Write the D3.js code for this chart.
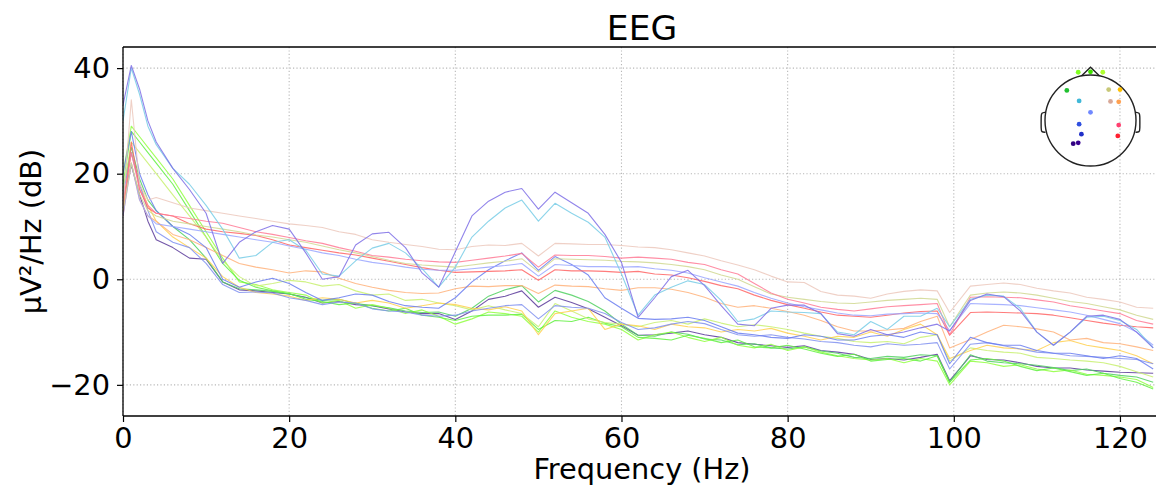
<!DOCTYPE html>
<html>
<head>
<meta charset="utf-8">
<script src="https://cdn.jsdelivr.net/npm/d3@7"></script>
<style>
  body { margin: 0; background: #fff; }
  text { font-family: "DejaVu Sans", sans-serif; fill: #000; }
</style>
</head>
<body>
<svg id="chart" width="1156" height="492"></svg>
<script>
"use strict";

// frequencies (Hz) shared by every channel
var freqs = [0, 1, 2, 3, 4, 6, 8, 10,
    12, 14, 16, 18, 20, 22, 24, 26, 28, 30, 32, 34, 36, 38, 40,
    42, 44, 46, 48, 50, 52, 54, 56, 58, 60, 62, 64, 66, 68, 70,
    72, 74, 76, 78, 80, 82, 84, 86, 88, 90, 92, 94, 96, 98, 99.5,
    102, 104, 106, 108, 110, 112, 114, 116, 118, 120, 122, 124];

// PSD per channel, dB
var psdIndigo = [15, 21.6, 16, 11, 7.5, 6, 4, 3.8,
    -0.5, -2, -2.2, -2.5, -2.8, -3.4, -4.5, -4.2, -4.8, -5, -5.6, -6.2, -6.5, -6.5, -7.6,
    -6, -3.8, -3.2, -2.2, -5.3, -3.4, -4.4, -5.6, -7.2, -8.8, -10.6, -10.5, -10.2, -9.8, -10.5,
    -11, -12, -12.3, -12.6, -12.9, -12.6, -13.5, -13.8, -14.2, -15.2, -15, -15.3, -14.8, -14.2, -19.2,
    -14.5, -15.2, -15.3, -15.8, -16.5, -16.8, -16.8, -17.2, -17.4, -17.6, -17.7, -17.8];
var psdGreen = [17, 25, 19, 15, 13, 10, 7.5, 4,
    -0.5, -1.8, -2, -2.3, -2.8, -3.5, -4, -3.8, -4.6, -5, -5.4, -6, -6.3, -6.2, -7,
    -5.5, -3.2, -2, -1.2, -4.3, -2.1, -3, -4.2, -6, -8.5, -10.6, -10.8, -10, -10.4, -11.3,
    -11.5, -12.4, -12.2, -13, -13.2, -12.8, -13.6, -14, -14.8, -15, -14.6, -14.8, -14.3, -14.5, -19.5,
    -14.3, -15.5, -15.8, -16, -16.3, -16.7, -17.3, -17, -17.8, -18.2, -18.5, -19.5];
var psdLime = [20, 29, 27, 25, 23, 19, 14, 9,
    4, -0.5, -1, -2, -2.5, -3, -4.5, -4, -5.5, -4.8, -5.5, -6.5, -5.8, -7, -8.5,
    -7.5, -6.2, -6.5, -7, -10, -6, -7.2, -8, -8.5, -9.5, -11.5, -10.5, -10, -11, -11.8,
    -11, -12.5, -13, -12.3, -13.5, -12.8, -13.8, -14.5, -15, -15.3, -15, -15.8, -15, -15.5, -20,
    -15.5, -15.8, -16.5, -16.2, -17, -17.5, -17.2, -18, -18.2, -18.5, -19, -20.5];
var psdBrightGreen = [18, 28, 26, 24, 22, 18, 13, 8,
    3, -0.2, -1.5, -2.2, -2.7, -3.8, -4.2, -4.8, -4.5, -5.5, -6, -5.5, -6.8, -7.2, -7.8,
    -7, -6.8, -6.8, -6.6, -9.5, -7.8, -8, -7.2, -8.3, -9, -11, -11.2, -11.5, -10.6, -11.2,
    -12, -11.5, -12.8, -13, -12.5, -13.2, -14, -14.6, -14.2, -15.5, -15.2, -15, -15.5, -14.5, -19.5,
    -15.3, -15, -15.5, -16.5, -17.3, -16.8, -17.5, -18.2, -17.8, -18.8, -19.5, -20.8];
var psdYellowGreen = [16, 26, 24, 22, 20, 16, 12, 8,
    3.5, 0.5, -1.3, -0.8, -0.2, -0.5, -1.3, -1, -2.2, -3, -2.8, -4, -3.8, -4.5, -5,
    -5.8, -5, -5.8, -6.5, -9, -4.6, -6, -7.5, -8.2, -8.5, -9, -8.2, -7.8, -8.5, -7.5,
    -8.3, -9, -8.6, -9, -9.5, -10.2, -10.8, -11.2, -11.8, -12, -11.8, -12.2, -11, -10.5, -15.5,
    -13, -13.5, -13.8, -14, -14.8, -15, -15.3, -15.5, -15.8, -16.5, -17.5, -18.5];
var psdGold = [14, 24, 18, 14, 11, 8, 6, 4,
    0.5, -1.5, -2.5, -2.8, -3.2, -4, -3.5, -3.8, -4.5, -4, -4.5, -5.5, -5, -4.5, -4.8,
    -5.5, -5.8, -5.2, -6, -10.5, -6.5, -6, -5.5, -9.5, -8.5, -8.8, -9.5, -8.5, -9, -9.2,
    -10, -9.5, -9.8, -9.3, -10.2, -10.8, -11.5, -10.8, -11, -10, -10.8, -9.5, -8.5, -10.5, -15,
    -13.5, -12.5, -13, -13.2, -13.5, -12, -11.6, -12.5, -13, -13.5, -14.5, -16];
var psdBlueLow = [16, 24, 18, 13, 9, 7, 6, 3,
    -1, -2.5, -2.4, -2.6, -3.5, -4, -4.8, -4.3, -4.5, -5.6, -6, -6.2, -6.8, -7, -6.8,
    -6, -5.5, -5, -4.8, -7.5, -5, -5.3, -5.5, -6.5, -8.2, -9.5, -9.2, -8.5, -8, -8.4,
    -9.5, -10.5, -10.8, -10.5, -11, -11.3, -11.8, -12, -12.5, -12.8, -12.2, -12.5, -12.3, -12, -17,
    -12.3, -12, -12.6, -13.2, -13.8, -14, -14.5, -14.6, -14.8, -15, -15.2, -16];
var psdOrange = [12, 22, 15, 12, 11, 8.5, 7.5, 6,
    4.5, 3, 2.3, 1.8, 1.2, 1.6, 1.4, 0.2, -0.8, -1.5, -2.1, -2.5, -2.7, -2.6, -1.8,
    -1.3, -1.4, -1.2, -1.2, -2.7, -1.1, -1.3, -1.4, -1.8, -2.1, -1.6, -1.6, -1.9, -2.5, -3.4,
    -4.6, -5.3, -5, -5.5, -6.1, -6.8, -7.8, -9, -9.8, -9.8, -9.6, -9.3, -8, -7, -13,
    -11.4, -10, -8.7, -9, -9.4, -10, -11.5, -11.2, -12, -12.2, -12.8, -13.5];
var psdBlueMid = [20, 28, 20, 16, 13, 10, 8.5, 6,
    0, -1.5, -0.5, 0.2, -0.8, -2.5, -4, -3.5, -2.8, -3, -4.2, -5, -5.3, -5.5, -3.5,
    -0.5, 1.8, 3.5, 5, 1.7, 4.3, 2.8, 0.8, -3.5, -5.5, -7.4, -7.6, -7.5, -7.2, -7.8,
    -9, -10.2, -10.5, -11, -11.2, -10.5, -10.8, -11.5, -11.5, -10.8, -10.5, -11, -10, -10.5, -16,
    -11, -12, -12.5, -12.5, -13.5, -14, -14, -14.5, -15, -14.5, -15, -17];
var psdRed = [12, 26, 17, 13.5, 12.5, 12, 10.5, 9.5,
    9, 8.7, 8.3, 7.5, 6.5, 6, 5.5, 5, 4.6, 4, 3.4, 2.8, 2.2, 1.7, 1.3,
    1.4, 1.5, 1.6, 1.8, -0.2, 1.8, 1.6, 1.6, 1.5, 1.3, 1.5, 1, 0.8, 0.3, -0.4,
    -1.2, -1.8, -3, -4, -4.8, -5.5, -6.2, -6.8, -7, -7.2, -6.8, -6.4, -6.1, -6, -10.6,
    -6.3, -6.2, -6.3, -6.4, -6.5, -6.8, -7.3, -7.8, -8.3, -8.7, -9, -9.2];
var psdLavender = [12, 22, 15, 12, 10.5, 10, 9.5, 9,
    8.5, 8, 7.5, 7, 6.3, 5.7, 5, 4.5, 3.8, 3.2, 2.8, 2.3, 1.9, 1.7, 1.7,
    2, 2.3, 2.6, 3, 0.6, 2.8, 2.6, 2.4, 2.4, 2.3, 2.4, 2, 1.7, 1.2, 0.3,
    -0.5, -1.3, -2.5, -3.6, -4.5, -5.2, -5.8, -6.4, -6.8, -6.9, -6.6, -6.5, -6.4, -6.5, -9.7,
    -4.6, -4.7, -4.8, -5, -5.4, -5.8, -6.2, -6.8, -7.6, -8.4, -10, -12.5];
var psdOlive = [13, 22, 16, 13, 12, 11, 10.5, 10,
    9.5, 9, 8.4, 8, 7.5, 7, 6.3, 5.6, 5, 4.3, 3.6, 3, 2.7, 2.5, 2.3,
    2.7, 3.1, 3.4, 3.9, 1.4, 3.9, 3.8, 3.7, 3.6, 3.4, 3.3, 3.1, 2.8, 2.4, 1.8,
    0.8, 0, -1.4, -2.8, -3.4, -3.8, -4.2, -4.5, -4.6, -4.3, -4, -3.8, -3.6, -3.8, -9,
    -3, -2.6, -2.4, -2.6, -3, -3.6, -4.2, -4.6, -5.2, -5.8, -6.8, -7.6];
var psdPink = [14, 24, 17, 14, 12.5, 12, 11.5, 11,
    10.6, 9.8, 9, 8.5, 7.9, 7.3, 6.8, 6, 5.3, 4.5, 4.2, 3.8, 3.5, 3.3, 3.2,
    3.6, 4, 4.4, 4.9, 2.3, 4.6, 4.5, 4.5, 4.3, 4, 4.2, 4, 3.8, 3.2, 2.8,
    1.8, 1, -0.8, -2.6, -3.8, -4.5, -5.3, -5.7, -6, -5.6, -5.2, -5, -4.8, -4.6, -10.5,
    -3.4, -3.3, -3.4, -3.5, -3.9, -4.3, -5, -5.5, -6, -6.5, -7.8, -8.5];
var psdTan = [14, 34, 18, 15, 15.5, 14.5, 13.5, 13,
    12.5, 12, 11.5, 11, 10.5, 10.2, 9.8, 9, 8.5, 7.5, 7, 6.6, 6.2, 5.7, 5.6,
    6.2, 6.5, 6.4, 6.8, 4.4, 6.8, 6.7, 6.6, 6.6, 6.4, 6.1, 6, 5.6, 5, 4.4,
    3.5, 2.7, 1.8, 0.6, -0.5, -0.6, -2.3, -3, -3.2, -3.6, -2.8, -2.3, -2, -2.2, -6.3,
    -1.3, -1, -0.7, -1, -1.7, -2.2, -2.6, -3.4, -3.8, -4.3, -5.3, -5.5];
var psdCyan = [30, 40, 35, 29, 25.5, 21, 18, 14,
    9.5, 4, 4.5, 7, 7.5, 5.5, 1, 0.6, 3.5, 5.9, 6.8, 5, 2, -1.5, 2.3,
    8, 11, 13.5, 15, 11, 14.4, 12.5, 10.8, 8, 1, -6.8, -3, -1.5, -0.3, -1,
    -4, -8, -7.5, -6, -6.2, -6.3, -6.5, -10, -10.5, -8, -9.5, -7, -7, -5.5, -9,
    -3.8, -3, -3.2, -5.5, -10, -12.5, -10, -7.2, -7, -7.8, -9.5, -13];
var psdPurple = [33, 40.5, 36, 30, 26, 21, 17, 12.5,
    3, 7, 9, 10.2, 9.5, 5, 0, 0.5, 6.5, 8.6, 8.9, 6, 1.2, -1.5, 5.2,
    12, 14.8, 16.5, 17.2, 13.3, 16.5, 14.5, 12.5, 8.5, 3.2, -7.2, -3.5, 0.5, 1.7, -1.2,
    -5, -8.5, -8.8, -5.5, -4.9, -4.9, -6.5, -10.3, -10.8, -9.5, -10.5, -10, -9.2, -8.5, -9.8,
    -4, -2.8, -3.3, -6, -10, -12.5, -10, -7, -6.8, -7.6, -10, -13];

var xTicks = [0, 20, 40, 60, 80, 100, 120];
var yTicks = [-20, 0, 20, 40];

// sensor layout on the head (unit circle = head outline)
var sensorX = [-0.27, 0.0, 0.27, -0.52, 0.40, 0.65, -0.25, 0.44, 0.62, 0.0, -0.25, 0.62, -0.20, 0.60, -0.38, -0.27];
var sensorY = [-1.06, -1.07, -1.06, -0.66, -0.68, -0.68, -0.43, -0.42, -0.41, -0.18, 0.08, 0.10, 0.30, 0.34, 0.51, 0.49];
var sensorColor = ["#80ff20", "#40e000", "#b0ff30", "#20c030", "#c8c878", "#ffc000", "#40b8d8", "#d8a898",
    "#ffa050", "#7088ff", "#3050e0", "#ff4070", "#2030c8", "#ff2030", "#300080", "#380090"];

var channels = [
    {values: psdIndigo, color: "#5a3a9a"},
    {values: psdGreen, color: "#50d060"},
    {values: psdLime, color: "#90ff40"},
    {values: psdBrightGreen, color: "#60f040"},
    {values: psdYellowGreen, color: "#c8f070"},
    {values: psdGold, color: "#ffd050"},
    {values: psdBlueLow, color: "#8090f0"},
    {values: psdOrange, color: "#ffb27a"},
    {values: psdBlueMid, color: "#6a7cf0"},
    {values: psdRed, color: "#ff6565"},
    {values: psdLavender, color: "#9aa6ff"},
    {values: psdOlive, color: "#d0d890"},
    {values: psdPink, color: "#ff7a95"},
    {values: psdTan, color: "#ecc8bc"},
    {values: psdCyan, color: "#78cde6"},
    {values: psdPurple, color: "#7e6ee6"}
];

var W = 1156;
var plotLeft = 123, plotTop = 47, plotBottom = 416;

var x = d3.scaleLinear().domain([0, 125]).range([plotLeft, plotLeft + 125 * 8.308]);
var y = d3.scaleLinear().domain([-25.9, 44]).range([plotBottom, plotTop]);

var svg = d3.select("#chart");

svg.append("defs").append("clipPath").attr("id", "plot")
    .append("rect")
    .attr("x", plotLeft).attr("y", plotTop)
    .attr("width", W - plotLeft).attr("height", plotBottom - plotTop);

// grid
var grid = svg.append("g").attr("stroke", "#b8b8b8").attr("stroke-width", 1.1).attr("stroke-dasharray", "1.2,2.2");
grid.selectAll("line.gx").data(xTicks).enter().append("line")
    .attr("x1", function (d) { return x(d); })
    .attr("x2", function (d) { return x(d); })
    .attr("y1", plotTop).attr("y2", plotBottom);
grid.selectAll("line.gy").data(yTicks).enter().append("line")
    .attr("x1", plotLeft).attr("x2", W)
    .attr("y1", function (d) { return y(d); })
    .attr("y2", function (d) { return y(d); });

// psd traces
var line = d3.line()
    .x(function (d, i) { return x(freqs[i]); })
    .y(function (d) { return y(d); });

svg.append("g").attr("clip-path", "url(#plot)")
    .selectAll("path")
    .data(channels)
    .enter()
    .append("path")
    .attr("d", function (d) { return line(d.values); })
    .attr("fill", "none")
    .attr("stroke", function (d) { return d.color; })
    .attr("stroke-width", 1.1)
    .attr("stroke-opacity", 0.85)
    .attr("stroke-linejoin", "round");

// axes
var xAxis = svg.append("g").attr("transform", "translate(0," + plotBottom + ")")
    .call(d3.axisBottom(x).tickValues(xTicks).tickSize(6).tickPadding(5.5).tickFormat(d3.format("d")));
var yAxis = svg.append("g").attr("transform", "translate(" + plotLeft + ",0)")
    .call(d3.axisLeft(y).tickValues(yTicks).tickSize(6).tickPadding(7).tickFormat(d3.format("d")));
[xAxis, yAxis].forEach(function (g) {
    g.select(".domain").remove();
    g.selectAll(".tick line").attr("stroke", "#000").attr("stroke-width", 1.2);
    g.selectAll(".tick text").attr("font-size", "28.8px").attr("font-family", "DejaVu Sans");
});

// spines
var spines = svg.append("g").attr("stroke", "#000").attr("stroke-width", 1.3);
spines.append("line").attr("x1", plotLeft).attr("x2", plotLeft).attr("y1", plotTop).attr("y2", plotBottom);
spines.append("line").attr("x1", plotLeft).attr("x2", W).attr("y1", plotTop).attr("y2", plotTop);
spines.append("line").attr("x1", plotLeft).attr("x2", W).attr("y1", plotBottom).attr("y2", plotBottom);

// labels
svg.append("text").attr("x", 642).attr("y", 40).attr("text-anchor", "middle")
    .attr("font-size", "34.5px").text("EEG");
svg.append("text").attr("x", 642).attr("y", 479).attr("text-anchor", "middle")
    .attr("font-size", "28.8px").text("Frequency (Hz)");
svg.append("text").attr("transform", "translate(41,231.5) rotate(-90)").attr("text-anchor", "middle")
    .attr("font-size", "28.8px").text("µV²/Hz (dB)");

// sensor topomap inset
var hx = d3.scaleLinear().domain([-1, 1]).range([1045, 1136]);
var hy = d3.scaleLinear().domain([-1, 1]).range([75, 166]);
var head = svg.append("g").attr("fill", "none").attr("stroke", "#222").attr("stroke-width", 1.4);
head.append("circle").attr("cx", hx(0)).attr("cy", hy(0)).attr("r", hx(1) - hx(0));
head.append("path").attr("d", d3.line()([[hx(-0.2), hy(-0.98)], [hx(0), hy(-1.17)], [hx(0.2), hy(-0.98)]]));
var earL = [[-0.99, -0.18], [-1.08, -0.17], [-1.085, -0.1], [-1.085, 0.2], [-1.08, 0.25], [-0.99, 0.26]];
head.append("path").attr("d", d3.line().curve(d3.curveBasis)(earL.map(function (p) { return [hx(p[0]), hy(p[1])]; })));
head.append("path").attr("d", d3.line().curve(d3.curveBasis)(earL.map(function (p) { return [hx(-p[0]), hy(p[1])]; })));

svg.append("g").selectAll("circle")
    .data(sensorX)
    .enter()
    .append("circle")
    .attr("cx", function (d) { return hx(d); })
    .attr("cy", function (d, i) { return hy(sensorY[i]); })
    .attr("r", 2.4)
    .attr("fill", function (d, i) { return sensorColor[i]; });
</script>
</body>
</html>
